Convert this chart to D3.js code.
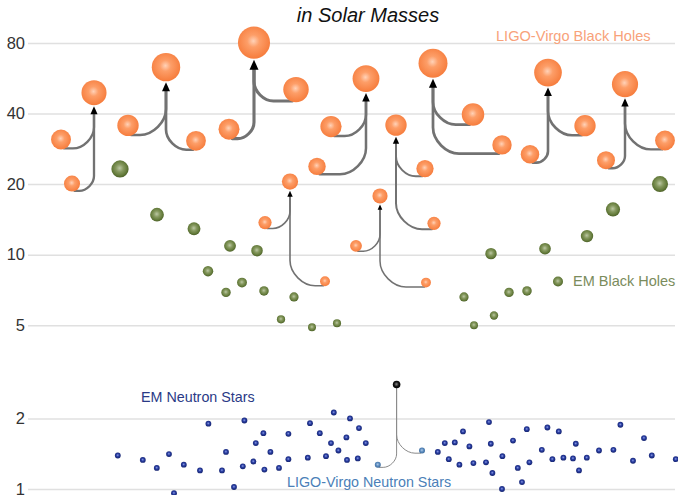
<!DOCTYPE html>
<html>
<head>
<meta charset="utf-8">
<script src="https://cdn.jsdelivr.net/npm/d3@7"></script>
<style>
  html, body { margin: 0; padding: 0; background: #fff; }
  svg { display: block; font-family: "Liberation Sans", Arial, sans-serif; }
</style>
</head>
<body>
<svg id="chart" width="678" height="495"></svg>
<script>
// ---------- DATA ----------
const yTicks = [1, 2, 5, 10, 20, 40, 80];
const titleText = "in Solar Masses";

// LIGO-Virgo binary black hole mergers (left to right)
const bhEvents = ["GW170104","GW150914","GW170729","GW170809","GW151012","GW151226","GW170608","GW170823","GW170818","GW170814"];
const bhM1  = [31.0, 35.6, 50.6, 35.2, 23.3, 13.7, 10.9, 39.6, 35.5, 30.7];
const bhM1x = [30.5, 64, 148, 165.5, 212.5, 132.5, 178, 236.5, 292.5, 332.5];
const bhM2  = [20.1, 30.6, 34.3, 23.8, 13.6, 7.7, 7.6, 29.4, 26.8, 25.3];
const bhM2x = [36, 98, 114.5, 158.5, 217, 162.5, 213, 251, 265, 303];
const bhMf  = [49.1, 63.1, 80.3, 56.4, 35.7, 20.5, 17.8, 65.6, 59.8, 53.4];
const bhMfx = [47, 83, 127, 183, 198, 145, 190, 216.5, 274, 312.5];

// EM black holes (X-ray binaries)
const emBhX = [60, 78.5, 97, 115, 128.5, 104, 113, 121, 132, 147, 140.5, 156, 168.5, 330, 306.5, 293.5, 272.5, 245.5, 263.5, 254.5, 232, 247, 237];
const emBhM = [23.2, 14.8, 12.9, 10.9, 10.4, 8.5, 6.9, 7.6, 7.0, 6.6, 5.3, 4.9, 5.1, 20.0, 15.6, 12.0, 10.6, 10.1, 7.0, 6.9, 6.6, 5.5, 5.0];

// EM neutron stars
const emNsX = [58.9, 71.4, 78.4, 84.5, 91.9, 100, 104.2, 111, 113, 87, 117, 122.2, 121.4, 126.7, 127.9, 131.7, 135.2, 132.2, 139.5, 144.2, 144.2, 153.9, 155, 159.9, 163, 165.5, 166.9, 169.2, 173.2, 173.5, 175, 178.9, 179.5, 182.9, 218.9, 222.4, 224.4, 227.4, 229.7, 231.5, 234.7, 236.7, 243, 244.5, 245.4, 246.2, 251.2, 251, 256.5, 258.9, 261, 263.4, 264.7, 270.9, 273.7, 276.2, 279.4, 281.7, 286.5, 287.9, 289.5, 293.4, 299.5, 306.7, 310.2, 316.5, 322, 325.9, 337.9];
const emNsM = [1.39, 1.33, 1.23, 1.41, 1.27, 1.20, 1.90, 1.20, 1.44, 0.96, 1.02, 1.96, 1.25, 1.31, 1.57, 1.73, 1.44, 1.21, 1.23, 1.72, 1.34, 1.36, 1.91, 1.73, 1.38, 1.57, 2.12, 1.46, 1.66, 1.33, 2.00, 1.35, 1.82, 1.57, 1.44, 1.57, 1.34, 1.58, 1.27, 1.76, 1.52, 1.29, 1.30, 1.93, 1.56, 1.17, 1.38, 1.00, 1.61, 1.23, 1.07, 1.80, 1.30, 1.47, 1.83, 1.34, 1.76, 1.36, 1.35, 1.56, 1.20, 1.36, 1.46, 1.47, 1.88, 1.32, 1.65, 1.39, 1.34];

// LIGO-Virgo neutron star merger GW170817
const nsEvent = "GW170817";
const nsM  = [1.46, 1.27];
const nsMx = [211, 188.9];
const nsMf  = 2.79;
const nsMfx = 198.3;

const legendLabels = ["LIGO-Virgo Black Holes", "EM Black Holes", "EM Neutron Stars", "LIGO-Virgo Neutron Stars"];

// ---------- SCALES ----------
const svg = d3.select("#chart");
const x = d3.scaleLinear().domain([0, 340]).range([0, 680]);
const y = d3.scaleLog().domain([1, 80]).range([489, 43]);
const r = d3.scaleSqrt().domain([0, 80]).range([0, 16]);
const strokeW = d3.scaleLinear().domain([2.8, 20, 80]).range([1, 1.6, 3.1]).clamp(true);
const headL = d3.scaleLinear().domain([2.8, 20, 80]).range([0, 6, 10]).clamp(true);

// ---------- GRADIENTS ----------
const defs = svg.append("defs");
function radial(id, stops) {
  const g = defs.append("radialGradient").attr("id", id)
    .attr("cx", "48%").attr("cy", "45%").attr("r", "55%");
  stops.forEach(s => g.append("stop").attr("offset", s[0]).attr("stop-color", s[1]));
}
radial("gOrange", [["0%", "#ffd2b8"], ["35%", "#fd9e68"], ["100%", "#f67c3c"]]);
radial("gGreen", [["0%", "#bcc8a4"], ["40%", "#86995f"], ["80%", "#627939"], ["100%", "#4c6027"]]);
radial("gNavy", [["0%", "#8c9ce4"], ["45%", "#2a3ea2"], ["100%", "#14236e"]]);
radial("gLigoNs", [["0%", "#b4cce6"], ["50%", "#5c8cc0"], ["100%", "#3e6c9c"]]);
radial("gBlack", [["0%", "#888"], ["55%", "#151515"], ["100%", "#000"]]);

// ---------- AXIS / GRID ----------
const axisX0 = 28, axisX1 = 675;
const axis = d3.axisLeft(y).tickValues(yTicks).tickFormat(d3.format("d"))
  .tickSize(-(axisX1 - axisX0)).tickPadding(3);
const gAxis = svg.append("g").attr("transform", `translate(${axisX0},0)`).call(axis);
gAxis.select(".domain").remove();
gAxis.selectAll(".tick line").attr("stroke", "#e0e0e0").attr("stroke-width", 1.5);
gAxis.selectAll(".tick text").attr("fill", "#333").attr("font-size", 16.5)
  .attr("font-family", "Liberation Sans, Arial, sans-serif");

// ---------- TITLE ----------
svg.append("text").attr("x", 368).attr("y", 22).attr("text-anchor", "middle")
  .attr("font-size", 20).attr("font-style", "italic").attr("fill", "#111")
  .text(titleText);

// ---------- MERGER ARROWS ----------
function curve(cx, cy, cr, fx, endY) {
  const dir = Math.sign(fx - cx) || 1;
  const sx = cx + dir * cr * 0.3, sy = cy + cr * 0.9;
  const dx = Math.abs(fx - sx), dy = Math.abs(sy - endY);
  const R = Math.min(dx * 0.75, dy * 0.6, 26);
  const k = 0.5;
  const p = d3.path();
  p.moveTo(sx, sy);
  p.lineTo(fx - dir * R, sy);
  p.bezierCurveTo(fx - dir * R * k, sy, fx, sy - R * k, fx, sy - R);
  p.lineTo(fx, endY);
  return p.toString();
}

const gArrows = svg.append("g");
const bhData = bhEvents.map((e, i) => ({
  event: e,
  comps: [{m: bhM1[i], x: bhM1x[i]}, {m: bhM2[i], x: bhM2x[i]}],
  mf: bhMf[i], xf: bhMfx[i]
}));

bhData.forEach(d => {
  const fx = x(d.xf), fy = y(d.mf), fr = r(d.mf);
  const hl = headL(d.mf), hw = hl * 0.45;
  const tipY = fy + fr + 1;
  d.comps.forEach(c => {
    gArrows.append("path")
      .attr("d", curve(x(c.x), y(c.m), r(c.m), fx, tipY + hl - 1))
      .attr("fill", "none").attr("stroke", "#727272")
      .attr("stroke-width", strokeW(d.mf)).attr("stroke-linecap", "round");
  });
  gArrows.append("path")
    .attr("d", `M${fx},${tipY} L${fx - hw},${tipY + hl} L${fx + hw},${tipY + hl} Z`)
    .attr("fill", "#000");
});

// NS merger lines
{
  const fx = x(nsMfx), fy = y(nsMf);
  nsM.forEach((m, i) => {
    gArrows.append("path")
      .attr("d", curve(x(nsMx[i]), y(m), 3, fx, fy + 3))
      .attr("fill", "none").attr("stroke", "#8a8a8a").attr("stroke-width", 1);
  });
}

// ---------- POINTS ----------
svg.append("g").selectAll("circle").data(emBhX.map((v, i) => ({x: v, m: emBhM[i]})))
  .join("circle")
  .attr("cx", d => x(d.x)).attr("cy", d => y(d.m)).attr("r", d => r(d.m))
  .attr("fill", "url(#gGreen)");

const bhPoints = [];
bhData.forEach(d => {
  d.comps.forEach(c => bhPoints.push({x: c.x, m: c.m}));
  bhPoints.push({x: d.xf, m: d.mf});
});
svg.append("g").selectAll("circle").data(bhPoints).join("circle")
  .attr("cx", d => x(d.x)).attr("cy", d => y(d.m)).attr("r", d => r(d.m))
  .attr("fill", "url(#gOrange)");

svg.append("g").selectAll("circle").data(emNsX.map((v, i) => ({x: v, m: emNsM[i]})))
  .join("circle")
  .attr("cx", d => x(d.x)).attr("cy", d => y(d.m)).attr("r", 2.9)
  .attr("fill", "url(#gNavy)");

svg.append("g").selectAll("circle").data(nsM.map((m, i) => ({x: nsMx[i], m})))
  .join("circle")
  .attr("cx", d => x(d.x)).attr("cy", d => y(d.m)).attr("r", 3)
  .attr("fill", "url(#gLigoNs)");
svg.append("circle").attr("cx", x(nsMfx)).attr("cy", y(nsMf)).attr("r", 3.8)
  .attr("fill", "url(#gBlack)");

// ---------- LABELS ----------
const labelFont = 14.3;
svg.append("text").attr("x", 496).attr("y", 41).attr("font-size", 14.6)
  .attr("fill", "#f8a27a").text(legendLabels[0]);
svg.append("circle").attr("cx", 558).attr("cy", 281.5).attr("r", 5)
  .attr("fill", "url(#gGreen)");
svg.append("text").attr("x", 573).attr("y", 286).attr("font-size", 14.5)
  .attr("fill", "#7b8c5c").text(legendLabels[1]);
svg.append("text").attr("x", 141).attr("y", 402).attr("font-size", labelFont)
  .attr("fill", "#2a3a86").text(legendLabels[2]);
svg.append("text").attr("x", 287).attr("y", 487).attr("font-size", labelFont)
  .attr("fill", "#4b7fb8").text(legendLabels[3]);
</script>
</body>
</html>
